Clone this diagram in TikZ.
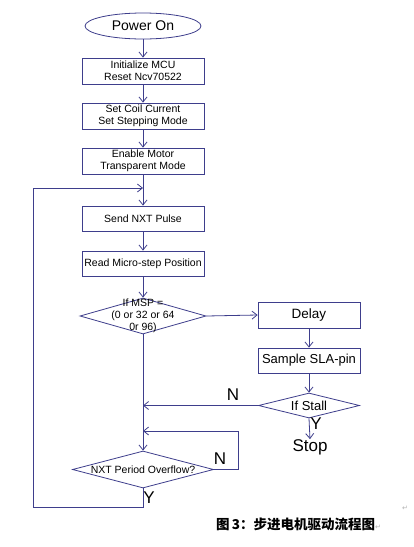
\documentclass[tikz,border=0pt]{standalone}
\usepackage{fontspec}
\setmainfont{Liberation Sans}
\newfontfamily\cjk{Noto Sans CJK SC}
\newfontfamily\symfont{DejaVu Sans}
\usepackage{tikz}
\usetikzlibrary{shapes.geometric,arrows.meta}
\definecolor{flowline}{RGB}{62,62,140}

\begin{document}
\begin{tikzpicture}[x=1pt,y=-1pt,
    every node/.style={inner sep=0pt},
    procbox/.style={draw=flowline,line width=0.8pt,minimum width=122pt,minimum height=26pt,align=center,font=\fontsize{10.5}{12}\selectfont},
    decision/.style={draw=flowline,line width=0.8pt,diamond,aspect=3.5},
    flow/.style={draw=flowline,line width=0.8pt,-{Straight Barb[length=5pt,width=8pt]}},
    yesno/.style={font=\fontsize{17}{17}\selectfont}]
    \useasboundingbox[fill=white] (0,0) rectangle (413,547);

    \node[draw=flowline,line width=0.8pt,ellipse,minimum width=116pt,minimum height=26pt,font=\fontsize{14}{15}\selectfont] (PowerOn) at (143,26) {Power On};
    \node[procbox] (InitMCU) at (143,71) {Initialize MCU\\Reset Ncv70522};
    \node[procbox] (SetCoil) at (143,116) {Set Coil Current\\Set Stepping Mode};
    \node[procbox] (EnableMotor) at (143,161) {Enable Motor\\Transparent Mode};
    \node[procbox,minimum height=25pt] (SendPulse) at (143,218.5) {Send NXT Pulse};
    \node[procbox,minimum height=25pt] (ReadPos) at (143,263.5) {Read Micro-step Position};

    \node[decision,minimum width=126pt,minimum height=36pt,
        label={[align=center,font=\fontsize{10.5}{12}\selectfont]center:If MSP =\\(0 or 32 or 64\\0r 96)}] (IfMSP) at (143,316) {};

    \node[procbox,minimum width=102pt,font=\fontsize{13.5}{14}\selectfont] (Delay) at (309,315) {Delay};
    \node[procbox,minimum width=102pt,minimum height=25pt,font=\fontsize{13}{14}\selectfont] (Sample) at (309,360.5) {Sample SLA-pin};
    \node[decision,minimum width=101pt,minimum height=25pt,
        label={[font=\fontsize{13}{14}\selectfont]center:If Stall}] (IfStall) at (309,405.5) {};
    \node[font=\fontsize{17}{17}\selectfont] (Stop) at (310,447) {Stop};

    \node[decision,minimum width=141pt,minimum height=37pt,
        label={[font=\fontsize{10.5}{12}\selectfont]center:NXT Period Overflow?}] (IfOverflow) at (143,469.5) {};

    \coordinate (LoopIn) at (143,188);
    \coordinate (StallIn) at (143,405.5);
    \coordinate (WaitIn) at (143,431);
    \coordinate (WaitRight) at (238,469.5);
    \coordinate (WaitTop) at (238,431);
    \coordinate (BackDown) at (143,507);
    \coordinate (BackLeft) at (33,507);
    \coordinate (BackUp) at (33,188);

    \draw[flow] (PowerOn) -- (InitMCU);
    \draw[flow] (InitMCU) -- (SetCoil);
    \draw[flow] (SetCoil) -- (EnableMotor);
    \draw[flow] (EnableMotor) -- (SendPulse);
    \draw[flow] (SendPulse) -- (ReadPos);
    \draw[flow] (ReadPos) -- (IfMSP);
    \draw[flow] (IfMSP.east) -- (Delay.west);
    \draw[flow] (Delay) -- (Sample);
    \draw[flow] (Sample) -- (IfStall);
    \draw[flow] (IfStall.west) -- (StallIn);
    \draw[flow] (IfStall.south) -- (Stop.north);
    \draw[flow] (IfMSP.south) -- (IfOverflow.north);
    \draw[flow] (IfOverflow.east) -- (WaitRight) -- (WaitTop) -- (WaitIn);
    \draw[flow] (IfOverflow.south) -- (BackDown) -- (BackLeft) -- (BackUp) -- (LoopIn);

    \node[yesno] (StallNo) at (233,395) {N};
    \node[yesno] (StallYes) at (316,424) {Y};
    \node[yesno] (OverflowNo) at (220,459) {N};
    \node[yesno] (OverflowYes) at (149,498) {Y};

    \node[anchor=west,font=\fontsize{13.5}{15}\selectfont] (Caption) at (216,524) {{\cjk\bfseries 图\,3：步进电机驱动流程图}{\symfont\fontsize{7}{8}\selectfont\color{gray!60}↵}};
    \node[font=\symfont\fontsize{7}{8}\selectfont,text=gray!60] (ReturnMark) at (405,508) {↵};
\end{tikzpicture}
\end{document}
